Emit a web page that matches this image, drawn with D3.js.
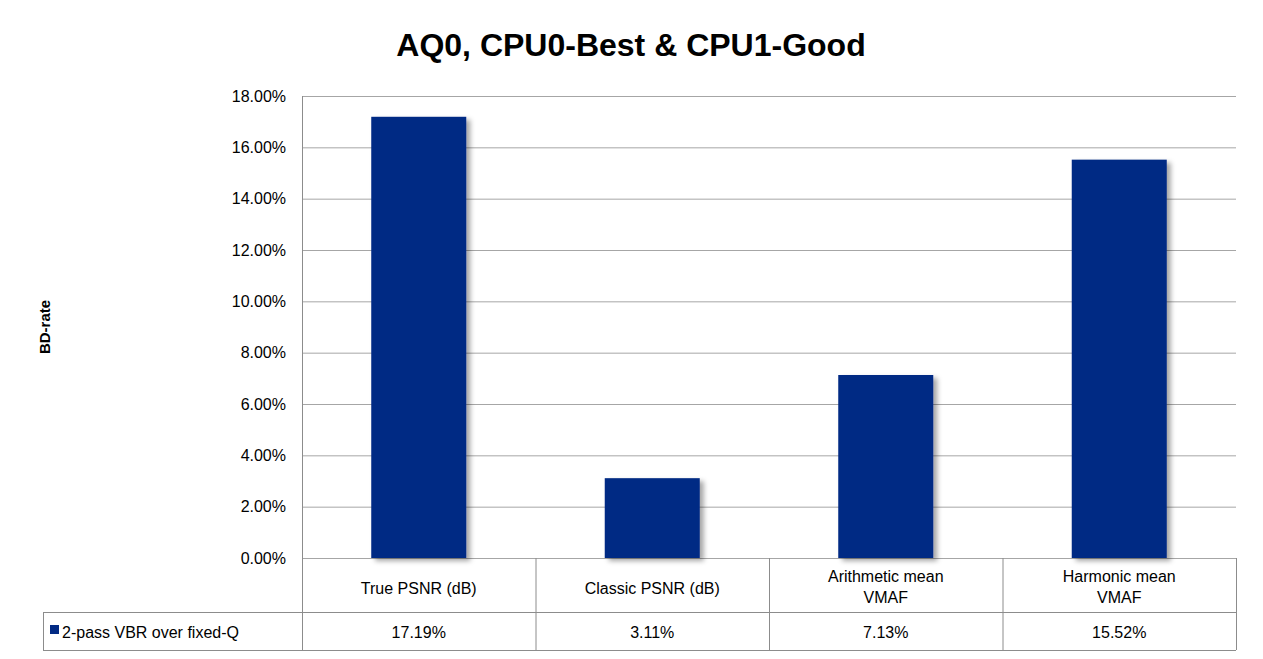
<!DOCTYPE html>
<html><head><meta charset="utf-8">
<script src="https://cdn.jsdelivr.net/npm/d3@7"></script>
<style>body{margin:0;background:#fff;font-family:"Liberation Sans",Arial,sans-serif}</style>
</head><body>
<script>
// data
const categories = [["True PSNR (dB)"], ["Classic PSNR (dB)"], ["Arithmetic mean", "VMAF"], ["Harmonic mean", "VMAF"]];
const values = [17.19, 3.11, 7.13, 15.52];
const seriesName = "2-pass VBR over fixed-Q";
const yTicks = [0, 2, 4, 6, 8, 10, 12, 14, 16, 18];

const width = 1263, height = 659;
const plot = {left: 302, right: 1236, top: 96, bottom: 558};
const rowMid = 612, tableBottom = 650, tableLeft = 43;
const barColor = "#022a84";
const gridColor = "#a6a6a6";

const svg = d3.select("body").append("svg").attr("width", width).attr("height", height);

const defs = svg.append("defs");
const f = defs.append("filter").attr("id", "sh").attr("x", "-20%").attr("y", "-20%").attr("width", "150%").attr("height", "150%");
f.append("feDropShadow").attr("dx", 4).attr("dy", 3).attr("stdDeviation", 2.5).attr("flood-color", "#000").attr("flood-opacity", 0.35);

const x = d3.scaleBand().domain(d3.range(categories.length)).range([plot.left, plot.right]);
const y = d3.scaleLinear().domain([0, 18]).range([plot.bottom, plot.top]);

//标题
svg.append("text").attr("x", 631).attr("y", 56).attr("text-anchor", "middle")
    .attr("font-size", 32).attr("font-weight", "bold").text("AQ0, CPU0-Best & CPU1-Good");

//网格线
svg.selectAll(".grid").data(yTicks).enter().append("line")
    .attr("x1", plot.left).attr("x2", plot.right)
    .attr("y1", d => y(d) + 0.5).attr("y2", d => y(d) + 0.5)
    .attr("stroke", gridColor).attr("stroke-width", 1);

svg.selectAll(".ylab").data(yTicks).enter().append("text")
    .attr("x", plot.left - 16).attr("y", d => y(d)).attr("dy", "0.35em")
    .attr("text-anchor", "end").attr("font-size", 16)
    .text(d => d.toFixed(2) + "%");

svg.append("text").attr("transform", `translate(50,${(plot.top + plot.bottom) / 2}) rotate(-90)`)
    .attr("text-anchor", "middle").attr("font-size", 15).attr("font-weight", "bold").text("BD-rate");

//柱子
const bw = 95;
svg.selectAll(".bar").data(values).enter().append("rect")
    .attr("x", (d, i) => x(i) + x.bandwidth() / 2 - bw / 2)
    .attr("y", d => y(d)).attr("width", bw)
    .attr("height", d => y(0) - y(d))
    .attr("fill", barColor).attr("filter", "url(#sh)");

//数据表
const tg = svg.append("g").attr("stroke", "#8c8c8c").attr("stroke-width", 1).attr("fill", "none");
tg.append("line").attr("x1", plot.left + 0.5).attr("x2", plot.left + 0.5).attr("y1", plot.top).attr("y2", tableBottom);
tg.append("line").attr("x1", plot.right + 0.5).attr("x2", plot.right + 0.5).attr("y1", plot.bottom).attr("y2", tableBottom);
x.domain().forEach(i => {
    if (i > 0) tg.append("line").attr("x1", x(i) + 0.5).attr("x2", x(i) + 0.5).attr("y1", plot.bottom).attr("y2", tableBottom);
});
tg.append("line").attr("x1", tableLeft).attr("x2", plot.right).attr("y1", rowMid + 0.5).attr("y2", rowMid + 0.5);
tg.append("line").attr("x1", tableLeft).attr("x2", plot.right).attr("y1", tableBottom + 0.5).attr("y2", tableBottom + 0.5);
tg.append("line").attr("x1", tableLeft + 0.5).attr("x2", tableLeft + 0.5).attr("y1", rowMid).attr("y2", tableBottom);

categories.forEach((lines, i) => {
    const cx = x(i) + x.bandwidth() / 2;
    const y0 = lines.length === 1 ? 594 : 582;
    lines.forEach((t, j) => {
        svg.append("text").attr("x", cx).attr("y", y0 + j * 21).attr("text-anchor", "middle")
            .attr("font-size", 16).text(t);
    });
});
svg.selectAll(".val").data(values).enter().append("text")
    .attr("x", (d, i) => x(i) + x.bandwidth() / 2).attr("y", 638)
    .attr("text-anchor", "middle").attr("font-size", 16)
    .text(d => d.toFixed(2) + "%");

svg.append("rect").attr("x", 50).attr("y", 625).attr("width", 9).attr("height", 9).attr("fill", barColor);
svg.append("text").attr("x", 62).attr("y", 638).attr("font-size", 16).text(seriesName);
</script>
</body></html>
